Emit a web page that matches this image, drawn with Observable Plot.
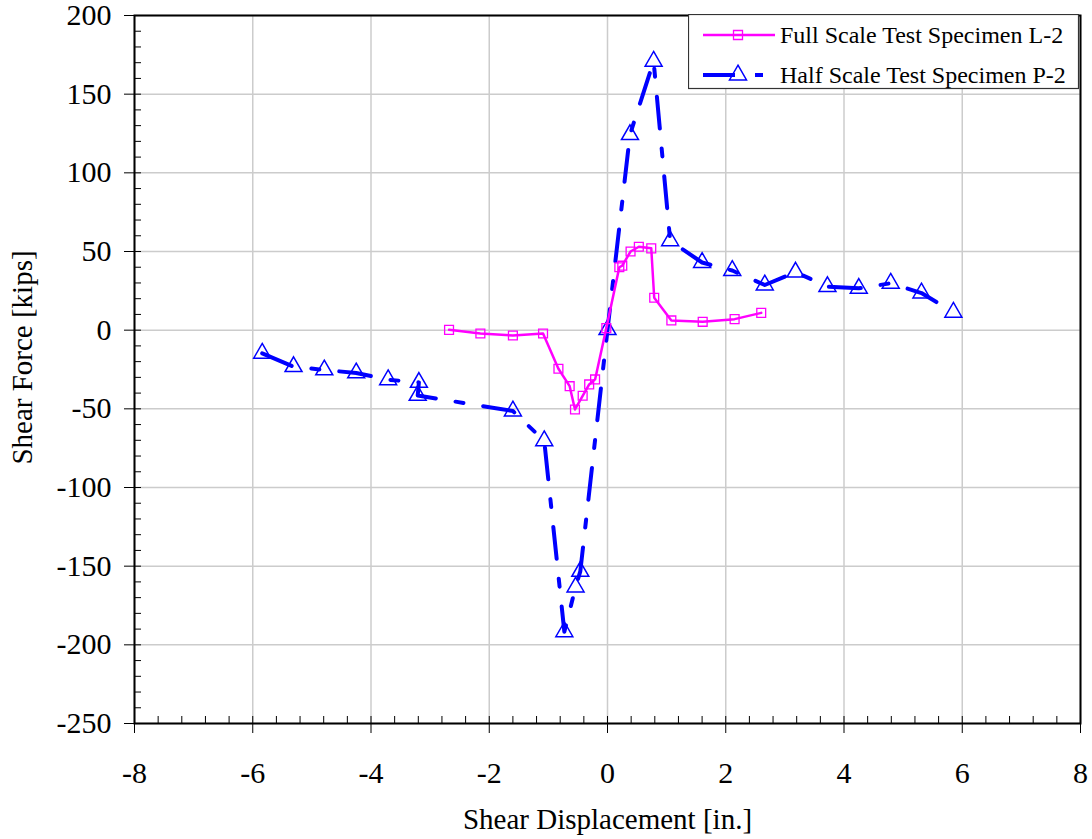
<!DOCTYPE html>
<html><head><meta charset="utf-8">
<script src="https://cdn.jsdelivr.net/npm/d3@7"></script>
<script src="https://cdn.jsdelivr.net/npm/@observablehq/plot@0.6"></script>
<style>
body{margin:0;background:#fff;}
#wrap{position:relative;width:1092px;height:839px;}
#legend{position:absolute;left:688px;top:14px;}
#wrap svg text{font-family:'Liberation Serif','Times New Roman',serif;}
</style></head><body><div id="wrap"></div>
<script>
// Full Scale Test Specimen L-2
const fullX = [-2.68, -2.15, -1.60, -1.09, -0.83, -0.64, -0.55, -0.42, -0.31, -0.21, -0.02, 0.20, 0.25, 0.39, 0.53, 0.74, 0.79, 1.08, 1.61, 2.15, 2.60];
const fullY = [0.2, -2.1, -3.4, -2.1, -24.5, -35.6, -50.4, -41.7, -34.5, -31.3, 1.3, 40, 41, 50, 53, 52, 20.6, 6.2, 5.3, 7, 11];
// Half Scale Test Specimen P-2
const halfX = [-5.84, -5.31, -4.79, -4.25, -3.71, -3.19, -3.21, -1.60, -1.07, -0.73, -0.54, -0.46, 0.00, 0.38, 0.78, 1.06, 1.60, 2.11, 2.66, 3.18, 3.72, 4.25, 4.79, 5.31, 5.85];
const halfY = [-14.7, -23.2, -25.3, -27.2, -31.5, -33.2, -41.5, -51.4, -70.3, -191.7, -163.3, -153.3, 0.3, 124.3, 170.9, 56.8, 43, 37.9, 28.7, 36.9, 27.7, 26.6, 29.8, 23.6, 11.4];

const seriesNames = ["Full Scale Test Specimen L-2", "Half Scale Test Specimen P-2"];
const xTicks = [-8, -6, -4, -2, 0, 2, 4, 6, 8];
const yTicks = [-250, -200, -150, -100, -50, 0, 50, 100, 150, 200];
const xMinor = d3.range(-8, 8.001, 0.4).map(v => +v.toFixed(1));
const yMinor = d3.range(-250, 200.001, 10);
const xTitle = "Shear Displacement [in.]";
const yTitle = "Shear Force [kips]";

const full = fullX.map((x, i) => ({x, y: fullY[i]}));
const half = halfX.map((x, i) => ({x, y: halfY[i]}));

const W = 1092, H = 839, mL = 134, mR = 12, mT = 15, mB = 116;
const plotW = W - mL - mR, plotH = H - mT - mB;
const serif = "'Liberation Serif','Times New Roman',serif";
const MAG = "#ff00ff", BLUE = "#0000ff";

const chart = Plot.plot({
  width: W, height: H,
  marginLeft: mL, marginRight: mR, marginTop: mT, marginBottom: mB,
  style: {fontFamily: serif, background: "white", color: "black", overflow: "visible"},
  x: {domain: [-8, 8]},
  y: {domain: [-250, 200]},
  marks: [
    Plot.ruleX(xTicks, {stroke: "#cccccc", strokeWidth: 1.5}),
    Plot.ruleY(yTicks, {stroke: "#cccccc", strokeWidth: 1.5}),
    Plot.ruleY(yMinor, {stroke: "black", strokeWidth: 1, insetRight: plotW - 7}),
    Plot.ruleX(xMinor, {stroke: "black", strokeWidth: 1, insetTop: plotH - 7}),
    Plot.axisX({ticks: xTicks, tickSize: 10, tickPadding: 28, tickFormat: d => String(d), fontSize: 30, fontFamily: serif, fontVariant: "normal", label: null, stroke: "black"}),
    Plot.axisY({ticks: yTicks, tickSize: 10, tickPadding: 13, tickFormat: d => String(d), fontSize: 30, fontFamily: serif, fontVariant: "normal", label: null, stroke: "black"}),
    Plot.frame({stroke: "black", strokeWidth: 2}),
    Plot.line(half, {x: "x", y: "y", stroke: BLUE, strokeWidth: 4, strokeDasharray: "32,20,8,20"}),
    Plot.dot(half, {x: "x", y: "y", symbol: "triangle", r: 6.3, stroke: BLUE, strokeWidth: 1.5, fill: "none"}),
    Plot.line(full, {x: "x", y: "y", stroke: MAG, strokeWidth: 2.5}),
    Plot.dot(full, {x: "x", y: "y", symbol: "square", r: 5, stroke: MAG, strokeWidth: 1.3, fill: "none"}),
    Plot.text([xTitle], {text: d => d, frameAnchor: "bottom", dy: 96, fontSize: 29, lineAnchor: "middle", fill: "black"}),
    Plot.text([yTitle], {text: d => d, frameAnchor: "left", dx: -112, dy: -12, rotate: -90, textAnchor: "middle", fontSize: 29, lineAnchor: "middle", fill: "black"})
  ]
});

const wrap = document.getElementById("wrap");
wrap.appendChild(chart);

// Legend
const lg = d3.select(wrap).append("div").attr("id", "legend")
  .append("svg").attr("width", 392).attr("height", 76);
lg.append("rect").attr("x", 0.5).attr("y", 0.5).attr("width", 390).attr("height", 74)
  .attr("fill", "white").attr("stroke", "#333").attr("stroke-width", 1.2);
const rows = [
  {name: seriesNames[0], y: 21, color: MAG, sw: 2.5, dash: null, sym: d3.symbolSquare, size: 81, msw: 1.3},
  {name: seriesNames[1], y: 61, color: BLUE, sw: 4, dash: "32,20,8,20", sym: d3.symbolTriangle, size: 125, msw: 1.5}
];
rows.forEach(r => {
  lg.append("line").attr("x1", 15).attr("x2", 87).attr("y1", r.y).attr("y2", r.y)
    .attr("stroke", r.color).attr("stroke-width", r.sw).attr("stroke-dasharray", r.dash);
  lg.append("path").attr("d", d3.symbol(r.sym, r.size)()).attr("transform", `translate(50,${r.y})`)
    .attr("fill", "none").attr("stroke", r.color).attr("stroke-width", r.msw);
  lg.append("text").attr("x", 92).attr("y", r.y).attr("dy", "0.35em")
    .attr("font-family", serif).attr("font-size", 24).attr("fill", "black").text(r.name);
});
</script></body></html>
